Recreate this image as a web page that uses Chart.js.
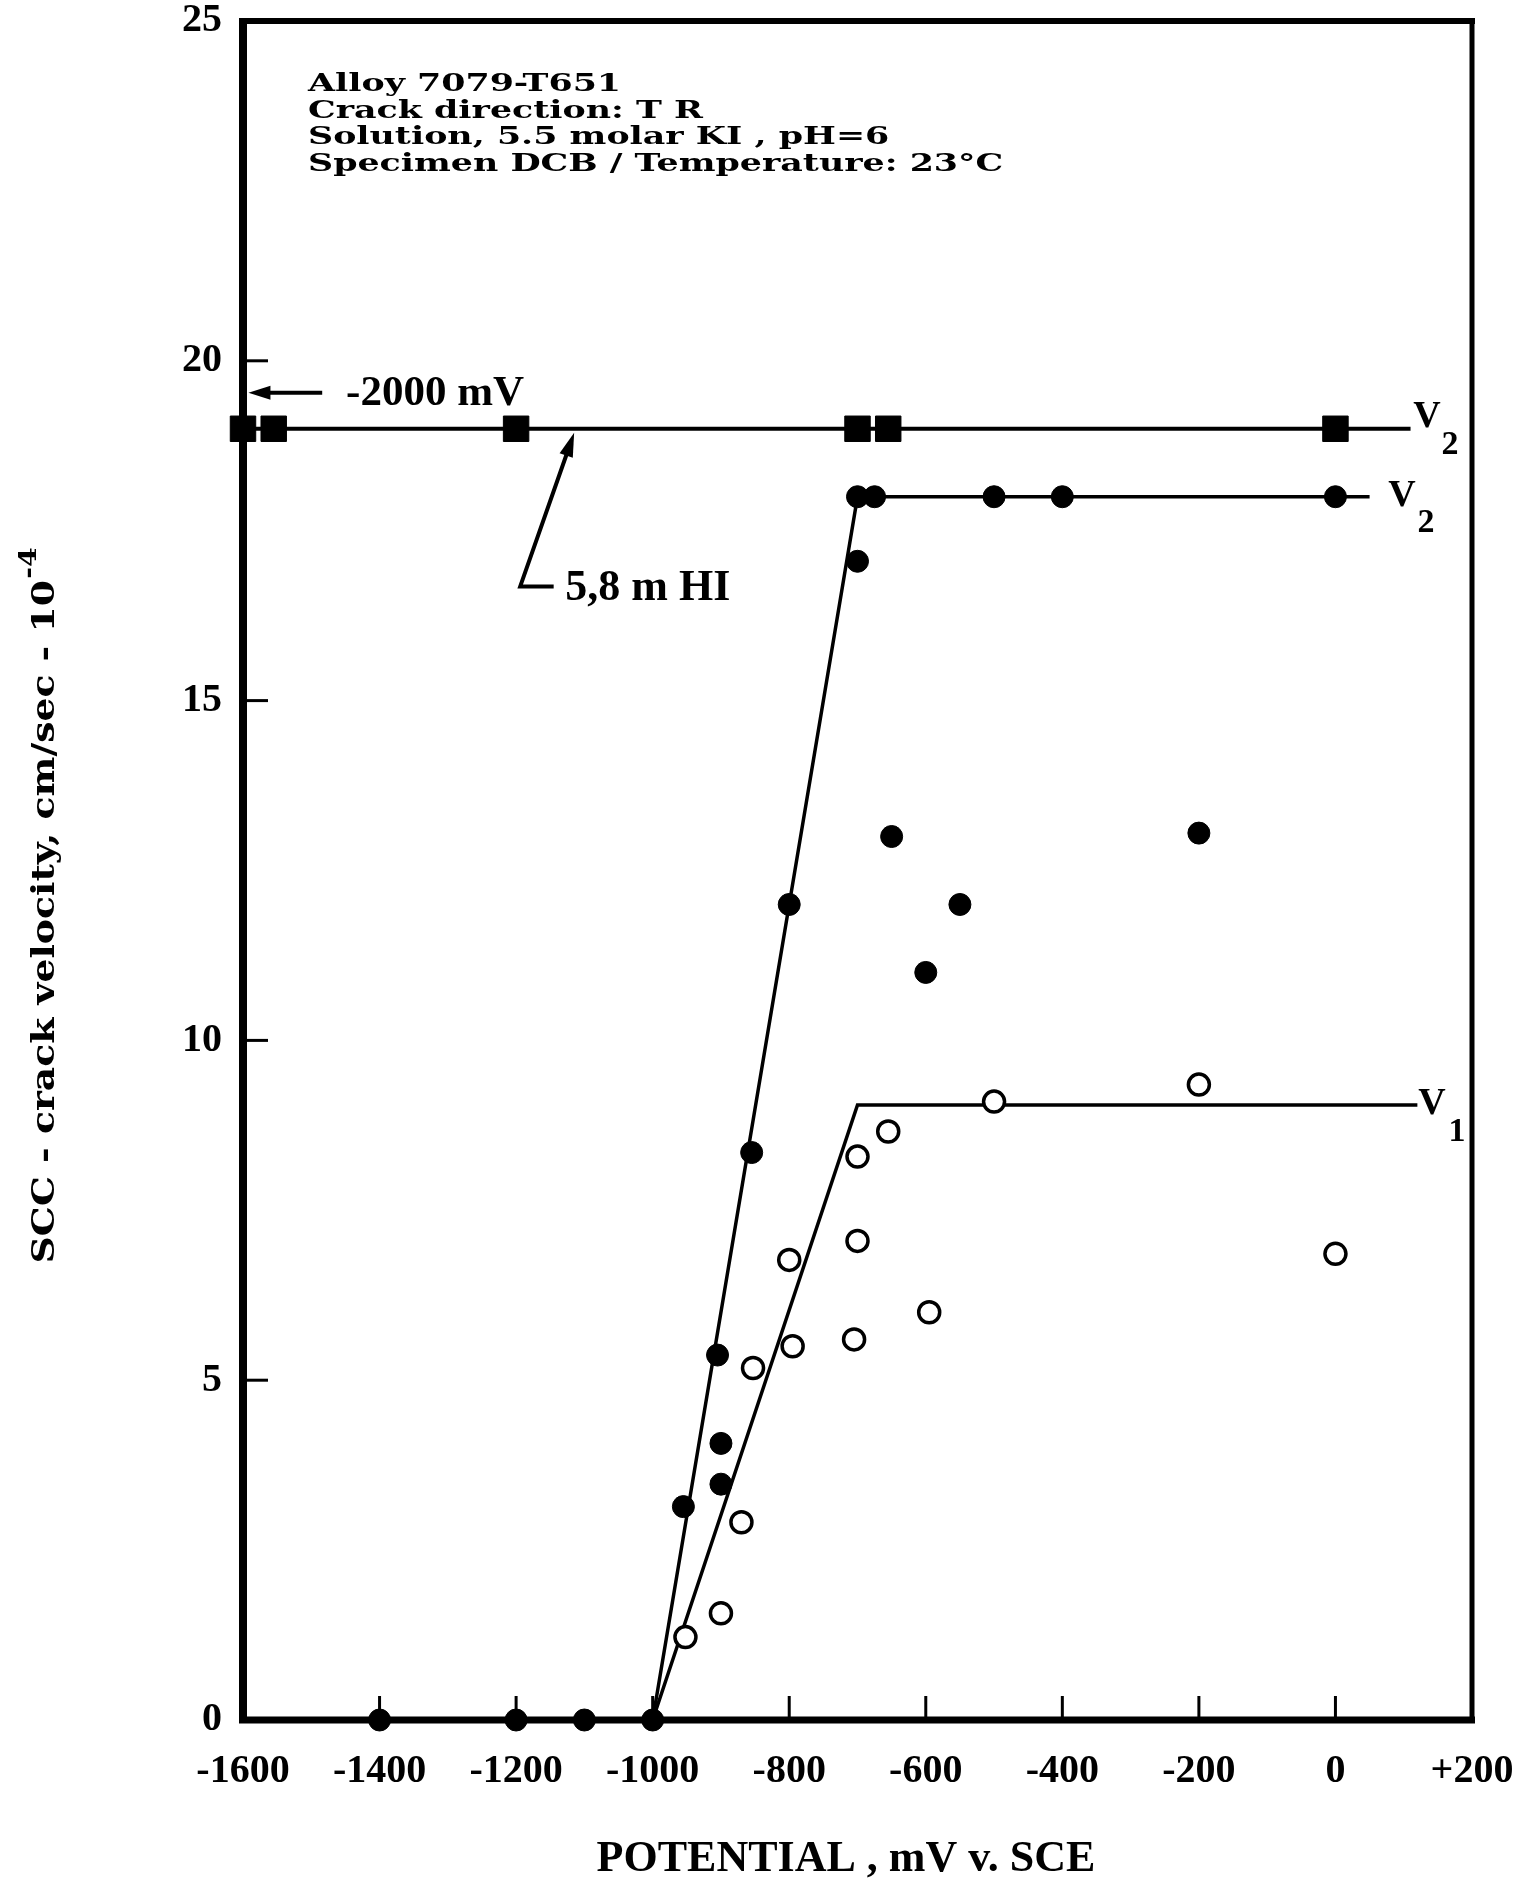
<!DOCTYPE html>
<html>
<head>
<meta charset="utf-8">
<script src="https://cdn.jsdelivr.net/npm/chart.js@4/dist/chart.umd.min.js"></script>
<style>
  html, body { margin: 0; padding: 0; background: #ffffff; }
  #wrap { width: 1515px; height: 1883px; position: relative; }
  canvas { display: block; }
</style>
</head>
<body>
<div id="wrap"><canvas id="chart" width="1515" height="1883"></canvas></div>
<script>
// Axis ticks
const potentialTicks = [-1600, -1400, -1200, -1000, -800, -600, -400, -200, 0, 200];
const velocityTicks = [0, 5, 10, 15, 20, 25];

// 5.8 m HI (filled squares); the -2000 mV test is plotted at the left edge of the axis
const hiPotential = [-1600, -1555, -1200, -700, -655, 0];
const hiVelocity = [19, 19, 19, 19, 19, 19];

// 5.5 molar KI, plateau velocity V2 (filled circles)
const v2Potential = [-700, -675, -500, -400, 0, -700, -650, -200, -800, -550, -600, -855, -905, -900, -900, -955, -1000, -1100, -1200, -1400];
const v2Velocity  = [18.0, 18.0, 18.0, 18.0, 18.0, 17.05, 13.0, 13.05, 12.0, 12.0, 11.0, 8.35, 5.37, 4.07, 3.47, 3.14, 0, 0, 0, 0];

// 5.5 molar KI, velocity V1 (open circles)
const v1Potential = [-500, -200, -655, -700, -700, -800, 0, -595, -795, -705, -853, -870, -900, -952];
const v1Velocity  = [9.1, 9.35, 8.66, 8.29, 7.05, 6.77, 6.86, 6.0, 5.5, 5.6, 5.18, 2.91, 1.57, 1.22];

// Trend lines
const hiLinePotential = [-1600, 110];
const hiLineVelocity  = [19, 19];
const v2LinePotential = [-1000, -700, 50];
const v2LineVelocity  = [0, 18, 18];
const v1LinePotential = [-1000, -700, 120];
const v1LineVelocity  = [0, 9.05, 9.05];

// Specimen notes
const noteLines = [
  'Alloy 7079-T651',
  'Crack direction: T R',
  'Solution, 5.5 molar KI , pH=6',
  'Specimen DCB / Temperature: 23\u00B0C'
];

const pairs = (xs, ys) => xs.map((x, i) => ({ x: x, y: ys[i] }));

const SERIF = '"Liberation Serif", "DejaVu Serif", serif';
const SLAB = '"DejaVu Serif", "Liberation Serif", serif';

function arrowHead(ctx, tipX, tipY, fromX, fromY, len, half) {
  const a = Math.atan2(tipY - fromY, tipX - fromX);
  ctx.beginPath();
  ctx.moveTo(tipX, tipY);
  ctx.lineTo(tipX - len * Math.cos(a) + half * Math.sin(a), tipY - len * Math.sin(a) - half * Math.cos(a));
  ctx.lineTo(tipX - len * Math.cos(a) - half * Math.sin(a), tipY - len * Math.sin(a) + half * Math.cos(a));
  ctx.closePath();
  ctx.fill();
}

// text drawn with a horizontal stretch (wide typewriter face)
function wideText(ctx, text, x, y, stretch) {
  ctx.save();
  ctx.translate(x, y);
  ctx.scale(stretch, 1);
  ctx.fillText(text, 0, 0);
  ctx.restore();
}

const decorations = {
  id: 'decorations',
  afterDraw(chart) {
    const ctx = chart.ctx;
    const xs = chart.scales.x, ys = chart.scales.y;
    const X = v => xs.getPixelForValue(v);
    const Y = v => ys.getPixelForValue(v);
    const L = X(-1600), R = X(200), T = Y(25), B = Y(0);
    ctx.save();
    ctx.strokeStyle = '#000';
    ctx.fillStyle = '#000';
    ctx.lineCap = 'butt';

    // frame
    ctx.lineWidth = 8;
    ctx.beginPath(); ctx.moveTo(L, T - 3); ctx.lineTo(L, B + 3); ctx.stroke();
    ctx.lineWidth = 7;
    ctx.beginPath(); ctx.moveTo(L - 4, B); ctx.lineTo(R + 3, B); ctx.stroke();
    ctx.lineWidth = 6;
    ctx.beginPath(); ctx.moveTo(L - 4, T); ctx.lineTo(R + 3, T); ctx.stroke();
    ctx.lineWidth = 5;
    ctx.beginPath(); ctx.moveTo(R, T - 3); ctx.lineTo(R, B + 3); ctx.stroke();

    // inward tick marks
    ctx.lineWidth = 3;
    potentialTicks.slice(1, -1).forEach(v => {
      ctx.beginPath(); ctx.moveTo(X(v), B); ctx.lineTo(X(v), B - 24); ctx.stroke();
    });
    velocityTicks.slice(1, -1).forEach(v => {
      ctx.beginPath(); ctx.moveTo(L, Y(v)); ctx.lineTo(L + 25, Y(v)); ctx.stroke();
    });

    // -2000 mV pointer
    ctx.lineWidth = 4;
    const ay = Y(19.53);
    ctx.beginPath(); ctx.moveTo(X(-1484), ay); ctx.lineTo(X(-1575), ay); ctx.stroke();
    arrowHead(ctx, X(-1592), ay, X(-1484), ay, 22, 7);
    ctx.font = 'bold 43px ' + SERIF;
    ctx.textBaseline = 'middle';
    ctx.textAlign = 'left';
    ctx.fillText('-2000 mV', X(-1449), ay + 1);

    // 5,8 m HI pointer
    ctx.lineWidth = 4;
    const cx = X(-1194), cy = Y(16.68);
    const tx = X(-1115), ty = Y(18.94);
    ctx.beginPath();
    ctx.moveTo(X(-1145), cy); ctx.lineTo(cx, cy);
    const k = 0.88;
    ctx.lineTo(cx + (tx - cx) * k, cy + (ty - cy) * k);
    ctx.stroke();
    arrowHead(ctx, tx, ty, cx, cy, 24, 7);
    ctx.font = 'bold 44px ' + SERIF;
    ctx.fillText('5,8 m HI', X(-1128), cy + 2);

    // curve labels
    const sub = (main, digit, mx, my, dx, dy) => {
      ctx.textAlign = 'center';
      ctx.font = 'bold 38px ' + SERIF;
      ctx.fillText(main, mx, my);
      ctx.font = 'bold 34px ' + SERIF;
      ctx.fillText(digit, mx + dx, my + dy);
    };
    sub('V', '2', 1427, 417, 23, 28);
    sub('V', '2', 1402, 496, 24, 27);
    sub('V', '1', 1432, 1104, 25, 28);

    // specimen notes
    ctx.font = 'bold 24px ' + SLAB;
    ctx.textAlign = 'left';
    ctx.textBaseline = 'alphabetic';
    noteLines.forEach((t, i) => wideText(ctx, t, 308, 91 + i * 26.5, 1.45));

    // axis titles
    ctx.textBaseline = 'middle';
    ctx.font = 'bold 44px ' + SERIF;
    ctx.textAlign = 'center';
    ctx.fillText('POTENTIAL , mV v. SCE', 846, 1860);

    ctx.save();
    ctx.translate(46, 906);
    ctx.rotate(-Math.PI / 2);
    const stretch = 1.18;
    ctx.scale(stretch, 1);
    const main = 'SCC - crack velocity, cm/sec - 10';
    ctx.font = 'bold 32px ' + SLAB;
    const wMain = ctx.measureText(main).width;
    ctx.font = 'bold 24px ' + SLAB;
    const wSup = ctx.measureText('-4').width;
    const start = -(wMain + wSup) / 2;
    ctx.textAlign = 'left';
    ctx.font = 'bold 32px ' + SLAB;
    ctx.fillText(main, start, 0);
    ctx.font = 'bold 24px ' + SLAB;
    ctx.fillText('-4', start + wMain + 1, -16);
    ctx.restore();

    ctx.restore();
  }
};

const tickFont = { family: SERIF, weight: 'bold', size: 40 };

// keep the plot frame fixed: no extra room for overhanging end labels
const noOverhang = s => { s.paddingLeft = 0; s.paddingRight = 0; s.paddingTop = 0; s.paddingBottom = 0; };

new Chart(document.getElementById('chart'), {
  type: 'scatter',
  data: {
    datasets: [
      { label: 'HI', data: pairs(hiPotential, hiVelocity), pointStyle: 'rect', pointRadius: 18, backgroundColor: '#000', borderColor: '#000', borderWidth: 1, clip: false },
      { label: 'V1', data: pairs(v1Potential, v1Velocity), pointStyle: 'circle', pointRadius: 10.5, backgroundColor: '#fff', borderColor: '#000', borderWidth: 3.5, clip: false },
      { label: 'V2', data: pairs(v2Potential, v2Velocity), pointStyle: 'circle', pointRadius: 11, backgroundColor: '#000', borderColor: '#000', borderWidth: 1, clip: false },
      { label: 'HI line', data: pairs(hiLinePotential, hiLineVelocity), showLine: true, pointRadius: 0, borderColor: '#000', borderWidth: 4, clip: false },
      { label: 'V2 line', data: pairs(v2LinePotential, v2LineVelocity), showLine: true, pointRadius: 0, borderColor: '#000', borderWidth: 3.5, clip: false },
      { label: 'V1 line', data: pairs(v1LinePotential, v1LineVelocity), showLine: true, pointRadius: 0, borderColor: '#000', borderWidth: 3.5, clip: false }
    ]
  },
  options: {
    responsive: false,
    animation: false,
    devicePixelRatio: 1,
    layout: { padding: { top: 21, right: 43, left: 0, bottom: 0 } },
    plugins: { legend: { display: false }, tooltip: { enabled: false } },
    scales: {
      x: {
        type: 'linear', min: -1600, max: 200,
        afterBuildTicks: s => { s.ticks = potentialTicks.map(v => ({ value: v })); },
        afterFit: s => { s.height = 163; noOverhang(s); },
        grid: { display: false, drawTicks: false },
        border: { display: false },
        ticks: {
          color: '#000', font: tickFont, padding: 28, maxRotation: 0, autoSkip: false,
          callback: v => (v > 0 ? '+' + v : String(v))
        }
      },
      y: {
        type: 'linear', min: 0, max: 25,
        afterBuildTicks: s => { s.ticks = velocityTicks.map(v => ({ value: v })); },
        afterFit: s => { s.width = 243; noOverhang(s); },
        grid: { display: false, drawTicks: false },
        border: { display: false },
        ticks: { color: '#000', font: tickFont, padding: 21, autoSkip: false }
      }
    }
  },
  plugins: [decorations]
});
</script>
</body>
</html>
